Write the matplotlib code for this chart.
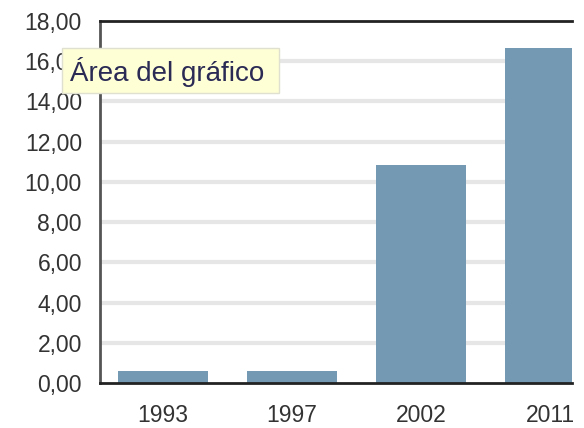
import numpy as np
import matplotlib
matplotlib.use('Agg')
import matplotlib.pyplot as plt
from matplotlib.patches import Rectangle

years = ["1993", "1997", "2002", "2011"]
values = [0.6, 0.6, 10.85, 16.67]
yticks = [0, 2, 4, 6, 8, 10, 12, 14, 16, 18]

plt.rcParams['font.family'] = ['Liberation Sans', 'DejaVu Sans']

fig = plt.figure(figsize=(5.84, 4.28), dpi=100)
ax = fig.add_axes([100/584, 1-383/428, 472/584, 362/428])

x = np.arange(len(years))
ax.bar(x, values, width=0.7, color='#7399b3', zorder=2)

ax.set_ylim(0, 18)
ax.set_xlim(-0.49, 3.17)
ax.set_yticks(yticks)
ax.set_yticklabels([("%.2f" % v).replace(".", ",") for v in yticks])
ax.set_xticks(x)
ax.set_xticklabels(years)
ax.tick_params(length=0, labelsize=16.5, colors='#333333')
ax.tick_params(axis='y', pad=13)
ax.tick_params(axis='x', pad=15)

for v in yticks[1:-1]:
    ax.axhline(v, color='#e6e6e6', linewidth=3, zorder=1)

ax.spines['right'].set_visible(False)
for s in ['left', 'bottom', 'top']:
    ax.spines[s].set_linewidth(2)
ax.spines['left'].set_color('#555555')
ax.spines['bottom'].set_color('#222222')
ax.spines['top'].set_color('#222222')

# tooltip
fig.patches.append(Rectangle((62/584, 1-93/428), 217/584, 45/428,
                             transform=fig.transFigure, facecolor='#ffffd6',
                             edgecolor='#e0e0d0', linewidth=1, zorder=5))
fig.text(70/584, 1-72/428, "Área del gráfico", fontsize=20, color='#2a2a55',
         va='center', ha='left', zorder=6)

fig.savefig('out.png', dpi=100)
